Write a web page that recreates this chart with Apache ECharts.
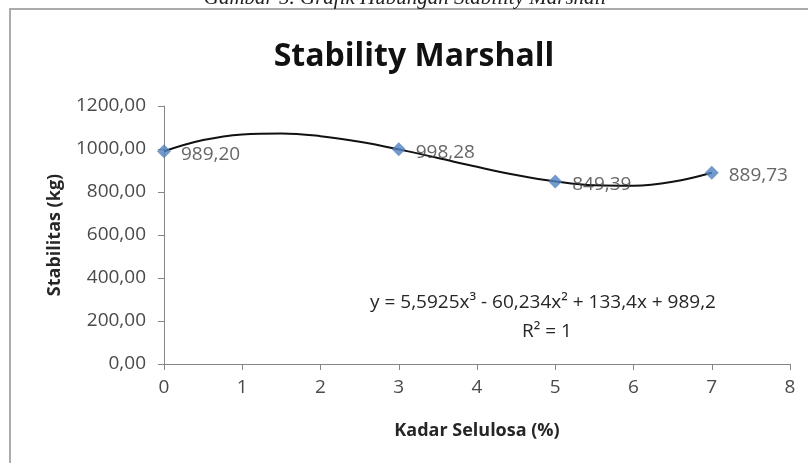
<!DOCTYPE html>
<html>
<head>
<meta charset="utf-8">
<script src="https://cdn.jsdelivr.net/npm/echarts@6/dist/echarts.min.js"></script>
<style>html,body{margin:0;padding:0;background:#fff;}#c{width:808px;height:463px;}</style>
</head>
<body>
<div id="c"></div>
<script>
// Measured points
const kadar = [0, 3, 5, 7];
const stabilitas = [989.20, 998.28, 849.39, 889.73];
// Trendline (polynomial, order 3)
const trendX = [0, 0.5, 1, 1.5, 2, 2.5, 3, 3.5, 4, 4.5, 5, 5.5, 6, 6.5, 7];
const trendY = [989.2, 1041.5, 1068.0, 1072.6, 1059.8, 1033.6, 998.3, 958.0, 917.0, 879.4, 849.4, 831.3, 829.2, 847.3, 889.8];
const yTicks = [0, 200, 400, 600, 800, 1000, 1200];
const xTicks = [0, 1, 2, 3, 4, 5, 6, 7, 8];
const titleText = 'Stability Marshall';
const captionText = 'Gambar 5. Grafik Hubungan Stability Marshall';
const eqText = 'y = 5,5925x³ - 60,234x² + 133,4x + 989,2';
const r2Text = 'R² = 1';

const fmt = v => v.toFixed(2).replace('.', ',');
const chart = echarts.init(document.getElementById('c'), null, {renderer: 'canvas'});
const FONT = 'Open Sans';
chart.setOption({
  animation: false,
  backgroundColor: '#fff',
  grid: {left: 164, right: 18, top: 106, bottom: 99, containLabel: false},
  xAxis: {
    type: 'value', min: xTicks[0], max: xTicks[xTicks.length - 1], interval: 1,
    name: 'Kadar Selulosa (%)', nameLocation: 'middle', nameGap: 58,
    nameTextStyle: {fontFamily: FONT, fontWeight: 'bold', fontSize: 18, color: '#262626'},
    axisLine: {show: true, onZero: false, lineStyle: {color: '#868686', width: 1}},
    axisTick: {show: true, length: 6, lineStyle: {color: '#868686'}},
    axisLabel: {fontFamily: FONT, fontSize: 19, color: '#4a4a4a', margin: 14},
    splitLine: {show: false}
  },
  yAxis: {
    type: 'value', min: yTicks[0], max: yTicks[yTicks.length - 1], interval: 200,
    name: 'Stabilitas (kg)', nameLocation: 'middle', nameGap: 100, nameRotate: 90,
    nameTextStyle: {fontFamily: FONT, fontWeight: 'bold', fontSize: 18, color: '#262626'},
    axisLine: {show: true, lineStyle: {color: '#868686', width: 1}},
    axisTick: {show: true, length: 6, lineStyle: {color: '#868686'}},
    axisLabel: {fontFamily: FONT, fontSize: 19, color: '#4a4a4a', margin: 18, formatter: v => fmt(v)},
    splitLine: {show: false}
  },
  series: [
    {
      type: 'line', data: trendX.map((x, i) => [x, trendY[i]]), smooth: 0.4,
      showSymbol: false, lineStyle: {color: '#111', width: 2}, z: 2, silent: true
    },
    {
      type: 'scatter', data: kadar.map((x, i) => [x, stabilitas[i]]),
      symbol: 'diamond', symbolSize: 14,
      itemStyle: {color: '#4F81BD'}, z: 3,
      label: {show: true, position: 'right', distance: 10, offset: [0, 3],
        fontFamily: FONT, fontSize: 19, color: '#404040',
        formatter: p => fmt(p.value[1])}
    }
  ],
  graphic: [
    {type: 'rect', shape: {x: 10, y: 9, width: 900, height: 600}, style: {fill: 'none', stroke: '#ababab', lineWidth: 2}, silent: true},
    {type: 'text', x: 414, y: 57, style: {text: titleText, fontFamily: FONT, fontWeight: 'bold', fontSize: 32, fill: '#111', align: 'center', verticalAlign: 'middle'}},
    {type: 'text', x: 405, y: 9, style: {text: captionText, fontFamily: 'Liberation Serif', fontStyle: 'italic', fontSize: 21, fill: '#222', align: 'center', verticalAlign: 'bottom'}},
    {type: 'text', x: 543, y: 303, style: {text: eqText, fontFamily: FONT, fontSize: 19, fill: '#262626', align: 'center', verticalAlign: 'middle'}},
    {type: 'text', x: 547, y: 332, style: {text: r2Text, fontFamily: FONT, fontSize: 19, fill: '#262626', align: 'center', verticalAlign: 'middle'}}
  ]
});
</script>
</body>
</html>
